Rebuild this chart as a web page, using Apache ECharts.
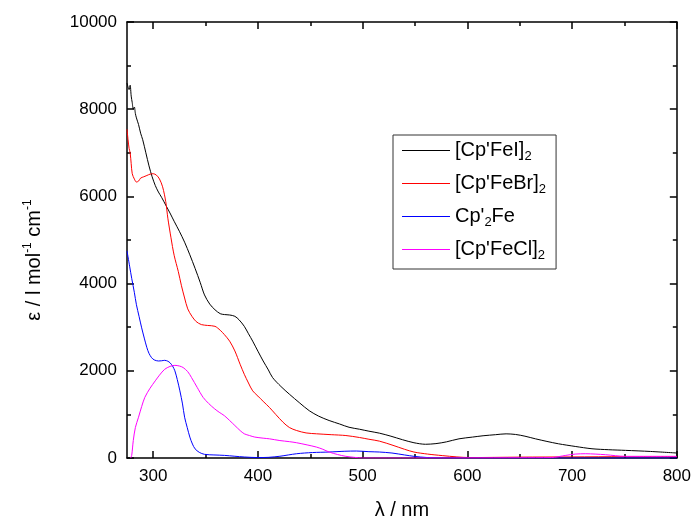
<!DOCTYPE html>
<html>
<head>
<meta charset="utf-8">
<script src="https://cdn.jsdelivr.net/npm/echarts@6/dist/echarts.min.js"></script>
<style>
  html, body { margin: 0; padding: 0; background: #fff; }
  #chart { width: 694px; height: 525px; }
</style>
</head>
<body>
<div id="chart"></div>
<script>
  // wavelengths (nm) and extinction (l mol-1 cm-1)
  var wlFeI = [275, 277, 278, 279, 280, 281, 282, 283, 284, 286, 288, 290, 293, 296, 299, 302, 305, 308, 312, 316, 320, 325, 330, 335, 340, 345, 349, 354, 359, 364, 368, 373, 378, 382, 387, 391, 395, 400, 405, 410, 414, 422, 430, 440, 449, 458, 468, 478, 487, 497, 506, 516, 527, 538, 549, 560, 570, 580, 592, 605, 615, 627, 637, 646, 655, 665, 676, 687, 703, 719, 735, 751, 775, 800]
  var epsFeI = [8600, 8450, 8550, 8300, 8150, 8000, 8050, 7900, 7800, 7650, 7450, 7300, 7000, 6700, 6450, 6250, 6100, 5980, 5800, 5620, 5430, 5200, 4950, 4660, 4350, 4020, 3740, 3530, 3400, 3310, 3290, 3280, 3250, 3170, 3020, 2850, 2680, 2450, 2225, 2020, 1845, 1640, 1465, 1260, 1085, 960, 860, 780, 705, 660, 615, 570, 500, 420, 350, 315, 330, 370, 440, 480, 510, 535, 554, 540, 500, 440, 380, 326, 265, 212, 190, 175, 150, 114]

  var wlFeBr = [275, 276, 277, 278, 279, 280, 282, 284, 286, 288, 291, 294, 297, 300, 303, 306, 309, 312, 314, 317, 320, 324, 327, 330, 333, 337, 341, 346, 352, 359, 364, 368, 373, 378, 383, 387, 391, 395, 400, 405, 411, 417, 424, 430, 437, 446, 456, 470, 484, 497, 506, 516, 529, 540, 549, 562, 576, 590, 602, 650, 700, 750, 800]
  var epsFeBr = [7540, 7300, 7100, 7000, 6750, 6520, 6400, 6330, 6350, 6420, 6450, 6480, 6510, 6520, 6490, 6400, 6220, 5880, 5500, 5050, 4650, 4275, 3950, 3670, 3420, 3250, 3130, 3060, 3040, 3020, 2930, 2830, 2680, 2455, 2150, 1920, 1720, 1540, 1420, 1300, 1160, 1000, 820, 700, 630, 575, 555, 535, 515, 470, 430, 387, 290, 200, 137, 90, 55, 25, 10, 20, 25, 30, 30]

  var wlCp2Fe = [275, 277.5, 279.5, 282, 284, 286.5, 289, 291.5, 294, 296, 298.5, 301, 305, 308, 311, 314, 316, 318.5, 320.7, 323, 325.5, 328, 330, 332.5, 335, 337.5, 340, 344, 349, 358, 368, 378, 387, 400, 410, 421, 437, 452, 468, 483, 494, 506, 516, 528, 540, 549, 562, 576, 650, 700, 800]
  var epsCp2Fe = [4750, 4400, 4120, 3800, 3515, 3250, 2985, 2750, 2530, 2400, 2300, 2250, 2225, 2230, 2240, 2220, 2185, 2110, 2000, 1800, 1540, 1240, 935, 700, 480, 320, 210, 130, 84, 70, 60, 40, 23, 10, 15, 40, 98, 125, 137, 155, 160, 145, 137, 114, 70, 38, 10, 0, 0, 0, 0]

  var wlFeCl = [278.5, 279.5, 281, 283, 286, 289, 292, 297, 302, 306, 311, 316, 320.7, 325, 328.6, 333, 336.6, 342, 347.7, 353, 358.8, 363, 368, 373, 378, 383, 387, 392, 397, 405, 411, 421, 430, 437, 447, 456, 462, 468, 476, 484, 492, 500, 600, 650, 680, 694, 703, 713, 722, 732, 751, 775, 800]
  var epsFeCl = [0, 60, 400, 700, 935, 1180, 1390, 1600, 1770, 1900, 2035, 2100, 2125, 2110, 2075, 1980, 1845, 1620, 1390, 1250, 1125, 1050, 970, 860, 745, 630, 555, 515, 480, 455, 440, 400, 375, 350, 300, 250, 200, 137, 80, 38, 15, 0, 0, 5, 10, 60, 90, 98, 90, 75, 38, 38, 38]

  var seriesNames = ["[Cp'FeI]2", "[Cp'FeBr]2", "Cp'2Fe", "[Cp'FeCl]2"]
  var seriesColors = ['#000000', '#ff0000', '#0000ff', '#ff00ff']
  var legendLabels = {
    "[Cp'FeI]2": "{t|[Cp'FeI]}{s|2}",
    "[Cp'FeBr]2": "{t|[Cp'FeBr]}{s|2}",
    "Cp'2Fe": "{t|Cp'}{s|2}{t|Fe}",
    "[Cp'FeCl]2": "{t|[Cp'FeCl]}{s|2}"
  }
  var majorX = [300, 400, 500, 600, 700, 800]
  var minorX = [350, 450, 550, 650, 750]

  function pairs (xs, ys) {
    var out = []
    for (var i = 0; i < xs.length; i++) {
      out.push([xs[i], ys[i]])
    }
    return out
  }

  var allData = [pairs(wlFeI, epsFeI), pairs(wlFeBr, epsFeBr), pairs(wlCp2Fe, epsCp2Fe), pairs(wlFeCl, epsFeCl)]

  var font = 'Liberation Sans, Arial, sans-serif'
  var black = '#000'

  function xAxisDef (pos, ticks, len, showLine, showLabel) {
    return {
      type: 'value',
      position: pos,
      min: 275,
      max: 800,
      splitLine: { show: false },
      axisLine: { show: showLine, onZero: false, lineStyle: { color: black, width: 1.5 } },
      axisTick: { show: true, inside: true, length: len, customValues: ticks, lineStyle: { color: black, width: 1.5 } },
      axisLabel: { show: showLabel, customValues: majorX, color: black, fontSize: 17, fontFamily: font, margin: 10 }
    }
  }

  var xAxes = [
    xAxisDef('bottom', majorX, 7, true, true),
    xAxisDef('bottom', minorX, 4, false, false),
    xAxisDef('top', majorX, 7, true, false),
    xAxisDef('top', minorX, 4, false, false)
  ]
  xAxes[0].name = 'λ / nm'
  xAxes[0].nameLocation = 'middle'
  xAxes[0].nameGap = 42
  xAxes[0].nameTextStyle = { color: black, fontSize: 20, fontFamily: font }

  function yAxisDef (pos, showLabel) {
    return {
      type: 'value',
      position: pos,
      min: 0,
      max: 10000,
      interval: 2000,
      splitLine: { show: false },
      axisLine: { show: true, lineStyle: { color: black, width: 1.5 } },
      axisTick: { show: true, inside: true, length: 7, lineStyle: { color: black, width: 1.5 } },
      minorTick: { show: true, splitNumber: 2, length: 4, lineStyle: { color: black, width: 1.5 } },
      axisLabel: {
        show: showLabel,
        color: black,
        fontSize: 17,
        fontFamily: font,
        margin: 10,
        formatter: function (v) { return String(v) }
      }
    }
  }

  var yAxes = [yAxisDef('left', true), yAxisDef('right', false)]
  yAxes[0].name = '{a|ε / l mol}{u|-1}{a| cm}{u|-1}'
  yAxes[0].nameLocation = 'middle'
  yAxes[0].nameGap = 81
  yAxes[0].nameTextStyle = {
    color: black,
    fontFamily: font,
    padding: [0, 40, 0, 0],
    rich: {
      a: { fontSize: 20, fontFamily: font, color: black, lineHeight: 24 },
      u: { fontSize: 12, fontFamily: font, color: black, lineHeight: 24, verticalAlign: 'top', padding: [0, 0, 12, 0] }
    }
  }

  var series = []
  var legendData = []
  for (var k = 0; k < seriesNames.length; k++) {
    series.push({
      name: seriesNames[k],
      type: 'line',
      xAxisIndex: 0,
      yAxisIndex: 0,
      data: allData[k],
      showSymbol: false,
      smooth: 0.3,
      color: seriesColors[k],
      lineStyle: { color: seriesColors[k], width: 1 },
      itemStyle: { color: seriesColors[k] },
      animation: false
    })
    legendData.push({ name: seriesNames[k], itemStyle: { color: seriesColors[k] } })
  }

  var myChart = echarts.init(document.getElementById('chart'), null, { renderer: 'canvas' })
  var option = {
    backgroundColor: '#fff',
    animation: false,
    grid: { left: 127, right: 16, top: 22, bottom: 64, containLabel: false },
    legend: {
      orient: 'vertical',
      left: 393,
      top: 135,
      data: legendData,
      icon: 'rect',
      itemWidth: 48,
      itemHeight: 1,
      itemGap: 10,
      padding: [5, 10, 7, 9],
      borderColor: '#333',
      borderWidth: 1,
      selectedMode: false,
      formatter: function (name) {
        return legendLabels[name]
      },
      textStyle: {
        color: black,
        fontFamily: font,
        rich: {
          t: { fontSize: 20, fontFamily: font, color: black, lineHeight: 25 },
          s: { fontSize: 13, fontFamily: font, color: black, lineHeight: 25, verticalAlign: 'bottom', padding: [10, 0, 0, 0] }
        }
      }
    },
    xAxis: xAxes,
    yAxis: yAxes,
    series: series
  }
  myChart.setOption(option)
</script>
</body>
</html>
